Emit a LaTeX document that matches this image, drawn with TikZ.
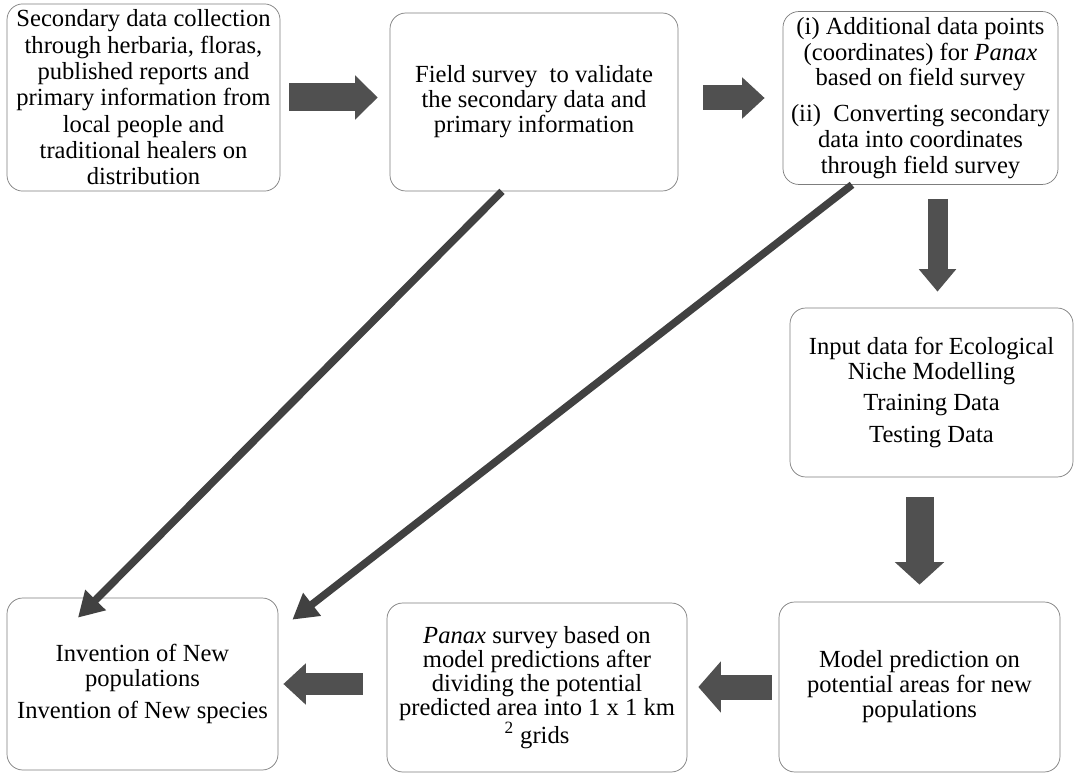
\documentclass[tikz,border=0pt]{standalone}
\usepackage{fontspec}
\setmainfont{Liberation Serif}
\usepackage{xcolor}
\definecolor{boxline}{RGB}{125,125,125}
\definecolor{fatgray}{RGB}{80,80,80}
\definecolor{slimgray}{RGB}{65,65,65}
\usepackage{tikz}
\usetikzlibrary{
    arrows.meta,
    positioning,
    calc
}

\begin{document}
\begin{tikzpicture}[
        stage/.style={rectangle, rounded corners=9pt, draw=boxline, fill=white, align=center, font=\fontsize{14}{14.2}\selectfont},
        fat/.style 2 args={draw=fatgray, line width=#1, -{Triangle[length=0.45cm, width=#2]}},
        slim/.style={draw=slimgray, line width=0.15cm, -{Triangle[length=0.5cm, width=0.55cm]}}
    ]
        \useasboundingbox (0,0) rectangle (21.62,-15.48);

        \node[stage, minimum width=5.46cm, minimum height=3.70cm, font=\fontsize{14}{15}\selectfont] (collect) at (2.87, -1.95) {Secondary data collection\\through herbaria, floras,\\published reports and\\primary information from\\local people and\\traditional healers on\\distribution};
        \node[stage, minimum width=5.76cm, minimum height=3.56cm] (survey) at (10.68, -2.04) {Field survey~ to validate\\the secondary data and\\primary information};
        \node[stage, minimum width=5.50cm, minimum height=3.44cm, font=\fontsize{14}{14.6}\selectfont] (points) at (18.41, -1.96) {(i) Additional data points\\(coordinates) for \textit{Panax}\\based on field survey\\[6pt](ii)~ Converting secondary\\data into coordinates\\through field survey};
        \node[stage, minimum width=5.66cm, minimum height=3.38cm] (input) at (18.63, -7.85) {Input data for Ecological\\Niche Modelling\\[4pt]Training Data\\[4pt]Testing Data};
        \node[stage, minimum width=5.62cm, minimum height=3.40cm] (predict) at (18.39, -13.74) {Model prediction on\\potential areas for new\\populations};
        \node[stage, minimum width=6.00cm, minimum height=3.38cm, font=\fontsize{14}{13.6}\selectfont] (panax) at (10.74, -13.75) {\textit{Panax} survey based on\\model predictions after\\dividing the potential\\predicted area into 1 x 1 km\\\textsuperscript{2} grids};
        \node[stage, minimum width=5.42cm, minimum height=3.44cm] (invent) at (2.85, -13.68) {Invention of New\\populations\\[4pt]Invention of New species};

        \draw[fat={0.56cm}{0.86cm}, shorten <=0.18cm, shorten >=0.24cm] (collect.east) -- (collect.east -| survey.west);
        \draw[fat={0.50cm}{0.80cm}, shorten <=0.50cm, shorten >=0.36cm] (survey.east |- points.west) -- (points.west);
        \draw[fat={0.40cm}{0.72cm}, shorten <=0.28cm, shorten >=0.32cm] ([xshift=0.12cm]input.north |- points.south) -- ([xshift=0.12cm]input.north);
        \draw[fat={0.56cm}{0.96cm}, shorten <=0.40cm, shorten >=0.34cm] (predict.north |- input.south) -- (predict.north);
        \draw[fat={0.50cm}{1.00cm}, shorten <=0.14cm, shorten >=0.22cm] (predict.west) -- (predict.west -| panax.east);
        \draw[fat={0.44cm}{0.80cm}, shorten <=0.48cm, shorten >=0.10cm] (panax.west |- invent.east) -- (invent.east);
        \draw[slim] ([xshift=-0.64cm]survey.south) -- ([xshift=-1.29cm, yshift=-0.40cm]invent.north);
        \draw[slim] ([xshift=-1.37cm]points.south) -- ([xshift=0.28cm, yshift=-0.44cm]invent.north east);
    \end{tikzpicture}
\end{document}
